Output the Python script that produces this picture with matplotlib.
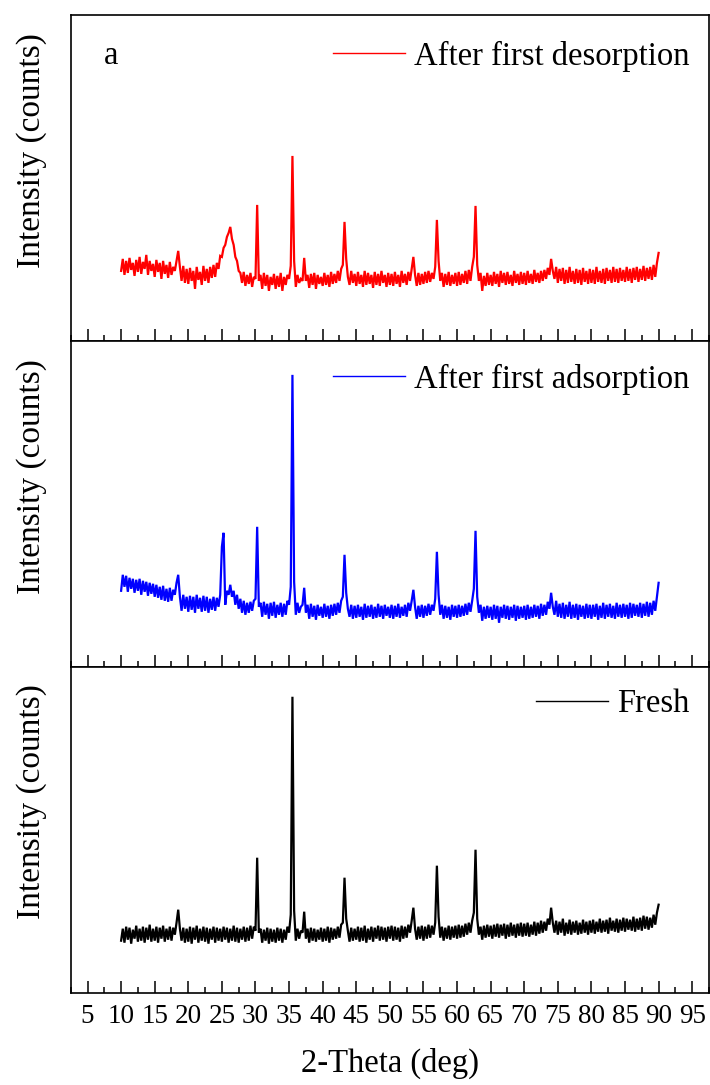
import numpy as np
import matplotlib
matplotlib.use("Agg")
import matplotlib.pyplot as plt
from matplotlib.ticker import MultipleLocator

plt.rcParams['font.family'] = ['Liberation Serif', 'DejaVu Serif']

# 2-Theta grid: 10..90 deg in 0.25 deg steps (321 readings per pattern)
theta_start, theta_step = 10.0, 0.25

# Intensity readings (arbitrary counts), rows of 20 = 5 degrees each
desorption = [
    70, 82, 66, 80, 68, 83, 71, 78, 65, 81, 69, 84, 67, 79, 72, 86, 66, 80, 70, 77,
    64, 81, 69, 78, 62, 80, 67, 76, 63, 79, 66, 74, 70, 80, 90, 74, 60, 75, 58, 72,
    57, 73, 60, 70, 52, 74, 61, 69, 56, 75, 60, 72, 58, 74, 63, 76, 64, 78, 72, 85,
    84, 93, 96, 104, 108, 114, 102, 96, 84, 80, 70, 68, 58, 69, 55, 66, 57, 68, 54, 64,
    62, 136, 60, 66, 52, 68, 55, 66, 50, 64, 56, 67, 52, 65, 54, 68, 50, 64, 56, 66,
    62, 75, 185, 80, 54, 66, 58, 62, 60, 83, 60, 66, 53, 67, 56, 68, 52, 66, 57, 64,
    55, 68, 56, 66, 54, 69, 57, 67, 58, 70, 60, 72, 76, 119, 82, 64, 56, 70, 58, 67,
    55, 69, 57, 66, 54, 70, 56, 68, 57, 66, 53, 69, 56, 67, 55, 70, 58, 66, 54, 68,
    56, 67, 55, 69, 57, 66, 54, 70, 58, 67, 56, 69, 60, 72, 84, 66, 55, 68, 56, 67,
    57, 69, 58, 70, 59, 68, 62, 74, 121, 80, 60, 68, 54, 67, 56, 69, 55, 66, 57, 68,
    55, 69, 56, 67, 58, 70, 57, 71, 60, 74, 84, 135, 76, 60, 68, 50, 65, 55, 68, 56,
    66, 55, 69, 57, 67, 54, 70, 58, 68, 56, 69, 57, 66, 55, 70, 58, 67, 56, 69, 57,
    68, 56, 70, 58, 67, 57, 71, 59, 68, 58, 70, 60, 71, 62, 73, 66, 82, 70, 62, 74,
    58, 72, 60, 73, 57, 71, 58, 74, 59, 70, 57, 72, 58, 71, 56, 73, 59, 70, 57, 72,
    58, 71, 57, 74, 59, 70, 58, 72, 57, 73, 60, 71, 58, 74, 59, 72, 58, 73, 60, 71,
    59, 74, 60, 72, 58, 73, 61, 74, 59, 72, 61, 75, 60, 73, 62, 74, 61, 76, 64, 78,
    88,
]

adsorption = [
    76, 92, 80, 91, 75, 89, 78, 88, 74, 87, 76, 88, 72, 86, 75, 85, 71, 84, 73, 83,
    70, 82, 69, 80, 67, 81, 66, 78, 65, 79, 66, 77, 72, 84, 92, 70, 56, 72, 58, 70,
    55, 71, 57, 70, 54, 72, 58, 69, 55, 71, 56, 70, 54, 68, 57, 70, 56, 69, 60, 72,
    120, 134, 62, 76, 72, 82, 70, 76, 62, 72, 58, 68, 54, 66, 52, 64, 54, 65, 56, 66,
    68, 140, 60, 64, 50, 65, 52, 63, 48, 64, 51, 65, 49, 62, 52, 64, 50, 63, 52, 66,
    62, 80, 292, 85, 52, 64, 54, 60, 62, 79, 54, 62, 48, 63, 50, 61, 47, 62, 51, 60,
    49, 63, 50, 61, 48, 62, 51, 63, 52, 64, 54, 66, 70, 112, 74, 58, 50, 62, 48, 61,
    49, 62, 50, 60, 47, 63, 49, 61, 50, 62, 48, 60, 49, 63, 50, 61, 48, 62, 51, 60,
    49, 62, 48, 61, 50, 63, 49, 60, 51, 62, 50, 64, 56, 66, 77, 60, 48, 61, 50, 62,
    49, 61, 51, 63, 52, 62, 56, 68, 115, 72, 52, 62, 48, 61, 49, 60, 47, 62, 50, 61,
    49, 62, 50, 61, 51, 63, 52, 64, 55, 66, 78, 136, 70, 54, 62, 46, 60, 48, 61, 49,
    60, 47, 62, 48, 61, 44, 60, 49, 62, 48, 61, 47, 60, 49, 62, 46, 61, 48, 60, 49,
    61, 47, 62, 48, 60, 49, 62, 50, 61, 48, 63, 51, 62, 52, 65, 58, 74, 60, 52, 66,
    50, 63, 49, 64, 48, 62, 50, 65, 48, 62, 49, 63, 47, 62, 50, 61, 48, 63, 49, 62,
    48, 62, 50, 63, 47, 61, 49, 64, 48, 62, 50, 63, 49, 61, 48, 64, 50, 62, 49, 63,
    50, 62, 48, 64, 49, 63, 51, 62, 50, 64, 49, 63, 51, 65, 50, 64, 52, 66, 56, 70,
    84,
]

fresh = [
    52, 64, 50, 66, 53, 65, 49, 63, 54, 67, 51, 64, 52, 66, 50, 65, 53, 68, 51, 64,
    52, 66, 50, 65, 54, 67, 51, 64, 53, 66, 52, 65, 58, 70, 83, 64, 52, 65, 50, 64,
    51, 66, 49, 65, 53, 67, 50, 64, 52, 66, 51, 65, 49, 64, 53, 66, 50, 65, 52, 64,
    51, 66, 53, 65, 50, 64, 52, 67, 51, 65, 50, 64, 53, 66, 51, 65, 52, 67, 54, 66,
    62, 135, 60, 64, 50, 63, 52, 65, 49, 64, 51, 63, 50, 65, 52, 64, 50, 63, 53, 66,
    60, 78, 296, 82, 52, 64, 54, 62, 60, 81, 54, 64, 50, 65, 52, 64, 51, 63, 53, 65,
    51, 64, 52, 66, 50, 65, 53, 64, 54, 66, 55, 68, 70, 115, 74, 62, 51, 65, 52, 64,
    53, 66, 51, 65, 52, 67, 50, 64, 53, 66, 51, 65, 54, 67, 52, 66, 53, 65, 51, 66,
    54, 67, 52, 66, 53, 65, 51, 67, 54, 66, 55, 68, 60, 72, 85, 64, 53, 66, 54, 67,
    52, 66, 54, 68, 55, 67, 58, 70, 127, 76, 55, 66, 52, 65, 54, 67, 53, 66, 55, 67,
    54, 68, 55, 67, 56, 69, 58, 70, 60, 72, 80, 143, 74, 58, 66, 53, 67, 55, 68, 56,
    67, 54, 68, 56, 69, 55, 68, 57, 69, 54, 68, 56, 70, 57, 68, 55, 69, 57, 70, 56,
    69, 57, 70, 56, 68, 58, 71, 57, 70, 59, 72, 60, 71, 62, 74, 68, 85, 70, 60, 72,
    58, 71, 60, 74, 57, 70, 59, 73, 58, 71, 60, 72, 58, 70, 59, 73, 60, 71, 58, 72,
    60, 73, 59, 71, 61, 74, 60, 72, 61, 73, 59, 75, 62, 72, 61, 74, 60, 73, 62, 75,
    61, 74, 63, 73, 62, 76, 61, 74, 63, 75, 62, 77, 64, 76, 63, 75, 65, 78, 68, 80,
    88,
]

series = [desorption, adsorption, fresh]
labels = ["After first desorption", "After first adsorption", "Fresh"]
colors = ["#FF0000", "#0000FF", "#000000"]
panel_letter = "a"

fig = plt.figure(figsize=(7.10, 10.85), dpi=100)
axes = fig.subplots(3, 1, sharex=True)
fig.subplots_adjust(left=0.0996, right=0.9986, bottom=0.0851, top=0.9862, hspace=0)

legend_y = [0.874, 0.883, 0.886]
for i, (ax, y, lab, col) in enumerate(zip(axes, series, labels, colors)):
    y = np.asarray(y, dtype=float)
    x = theta_start + theta_step * np.arange(len(y))
    ax.plot(x, y, color=col, lw=1.6, label=lab, solid_joinstyle='miter')
    ax.set_xlim(2.5, 97.5)
    ax.set_ylim(0, 326)
    ax.set_yticks([])
    ax.xaxis.set_major_locator(MultipleLocator(5))
    ax.xaxis.set_minor_locator(MultipleLocator(2.5))
    ax.tick_params(axis='x', which='major', direction='in', length=8.6, width=1.1,
                   labelsize=19.5, pad=8, top=False)
    ax.tick_params(axis='x', which='minor', direction='in', length=4.0, width=1.1, top=False)
    for s in ax.spines.values():
        s.set_linewidth(1.2)
    ax.set_ylabel("Intensity (counts)", fontsize=24)
    ax.yaxis.set_label_coords(-0.037, 0.585)
    leg = ax.legend(loc='center right', bbox_to_anchor=(0.97, legend_y[i]), frameon=False,
                    fontsize=23.5, handlelength=2.2, handletextpad=0.3, borderpad=0,
                    borderaxespad=0)
    for h in leg.get_lines():
        h.set_linewidth(1.0)
    if i < 2:
        ax.tick_params(axis='x', which='both', labelbottom=False)

axes[0].text(0.052, 0.874, panel_letter, transform=axes[0].transAxes, fontsize=23.5,
             ha='left', va='center')
axes[2].set_xlabel("2-Theta (deg)", fontsize=23.5, labelpad=14)

fig.savefig("out.png", dpi=100)
